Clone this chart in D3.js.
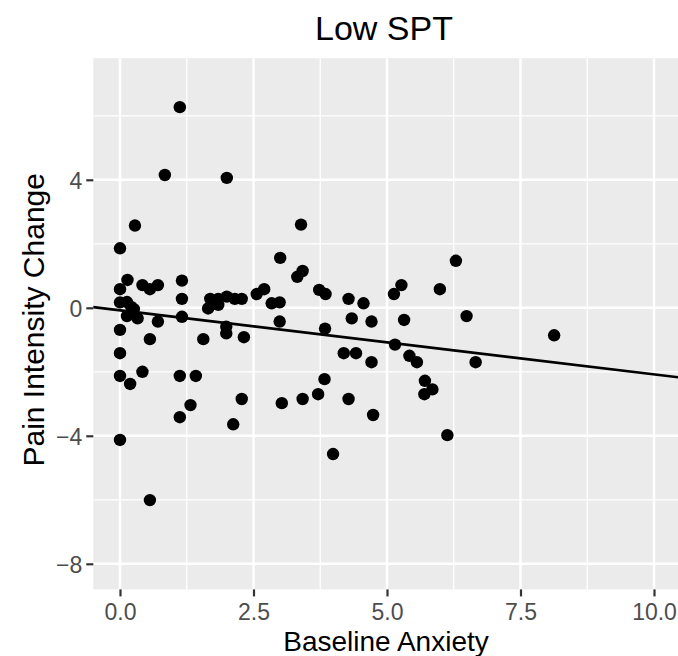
<!DOCTYPE html>
<html>
<head>
<meta charset="utf-8">
<script src="https://cdn.jsdelivr.net/npm/d3@7"></script>
<style>
  body { margin: 0; background: #fff; }
  text { font-family: "Liberation Sans", Arial, Helvetica, sans-serif; }
</style>
</head>
<body>
<script>
// baseline anxiety (x) and pain intensity change (y)
const anxiety = [
  1.12, 0.84, 2.00, 0.28, 3.39, 0.00, 3.00, 6.29, 3.32, 3.42,
  0.14, 0.00, 0.42, 0.56, 0.71, 1.16, 1.16, 0.00, 0.13, 0.21,
  0.26, 0.13, 0.33, 0.71, 1.16, 0.00, 0.56, 0.00, 1.56, 1.99,
  1.99, 2.32, 1.65, 1.69, 1.84, 2.00, 2.15, 2.28, 1.84, 2.56,
  2.70, 2.84, 2.99, 2.99, 3.73, 3.85, 4.28, 4.56, 4.34, 4.71,
  3.84, 5.13, 5.27, 5.32, 5.99, 6.49, 8.13, 5.15, 5.42, 5.56,
  6.66, 4.19, 4.42, 4.71, 3.83, 5.71, 5.85, 5.70, 3.03, 3.42,
  3.71, 4.28, 4.74, 6.13, 3.99, 0.00, 0.19, 0.42, 1.12, 1.42,
  1.32, 1.12, 2.28, 2.12, 0.00, 0.56
];
const painChange = [
  6.27, 4.15, 4.06, 2.57, 2.60, 1.86, 1.56, 1.47, 0.97, 1.15,
  0.87, 0.58, 0.71, 0.58, 0.71, 0.85, 0.28, 0.17, 0.18, 0.03,
  -0.04, -0.26, -0.33, -0.43, -0.28, -0.69, -0.98, -1.42, -0.98, -0.59,
  -0.80, -0.92, -0.02, 0.28, 0.28, 0.35, 0.28, 0.28, 0.09, 0.43,
  0.58, 0.14, 0.17, -0.43, 0.56, 0.43, 0.28, 0.14, -0.33, -0.43,
  -0.65, 0.43, 0.71, -0.38, 0.58, -0.26, -0.86, -1.15, -1.50, -1.70,
  -1.70, -1.42, -1.42, -1.70, -2.23, -2.28, -2.55, -2.70, -2.98, -2.85,
  -2.70, -2.85, -3.35, -3.98, -4.57, -2.13, -2.38, -2.00, -2.13, -2.13,
  -3.04, -3.42, -2.85, -3.64, -4.13, -6.01
];

// fitted line
const fitIntercept = -0.08, fitSlope = -0.2;

const xTicks = [0, 2.5, 5, 7.5, 10];
const xMinor = [1.25, 3.75, 6.25, 8.75];
const yTicks = [-8, -4, 0, 4];
const yMinor = [-6, -2, 2, 6];

const width = 678, height = 656;
const x = d3.scaleLinear().domain([-0.5, 10.5]).range([93.3, 680.7]);
const y = d3.scaleLinear().domain([-8.8, 7.8]).range([589.4, 58.2]);

const svg = d3.select("body").append("svg")
  .attr("width", width).attr("height", height);

svg.append("rect")
  .attr("x", x.range()[0]).attr("y", y.range()[1])
  .attr("width", x.range()[1] - x.range()[0])
  .attr("height", y.range()[0] - y.range()[1])
  .attr("fill", "#EBEBEB");

const grid = svg.append("g");
grid.selectAll(".xminor").data(xMinor).join("line")
  .attr("x1", d => x(d)).attr("x2", d => x(d))
  .attr("y1", y.range()[0]).attr("y2", y.range()[1])
  .attr("stroke", "#fff").attr("stroke-width", 1.3);
grid.selectAll(".yminor").data(yMinor).join("line")
  .attr("y1", d => y(d)).attr("y2", d => y(d))
  .attr("x1", x.range()[0]).attr("x2", x.range()[1])
  .attr("stroke", "#fff").attr("stroke-width", 1.3);
grid.selectAll(".xmajor").data(xTicks).join("line")
  .attr("x1", d => x(d)).attr("x2", d => x(d))
  .attr("y1", y.range()[0]).attr("y2", y.range()[1])
  .attr("stroke", "#fff").attr("stroke-width", 2.5);
grid.selectAll(".ymajor").data(yTicks).join("line")
  .attr("y1", d => y(d)).attr("y2", d => y(d))
  .attr("x1", x.range()[0]).attr("x2", x.range()[1])
  .attr("stroke", "#fff").attr("stroke-width", 2.5);

// points
const pts = anxiety.map((a, i) => ({ a: a, p: painChange[i] }));
svg.append("g").selectAll("circle").data(pts).join("circle")
  .attr("cx", d => x(d.a)).attr("cy", d => y(d.p))
  .attr("r", 6.2).attr("fill", "#000");

// regression line
const xd = x.domain();
svg.append("line")
  .attr("x1", x(xd[0])).attr("y1", y(fitIntercept + fitSlope * xd[0]))
  .attr("x2", x(xd[1])).attr("y2", y(fitIntercept + fitSlope * xd[1]))
  .attr("stroke", "#000").attr("stroke-width", 2.6);

// axes
const fmtX = d3.format(".1f");
const fmtY = d => d3.format("d")(d).replace("-", "\u2212");

const xAxis = svg.append("g")
  .attr("transform", `translate(0,${y.range()[0]})`)
  .call(d3.axisBottom(x).tickValues(xTicks).tickFormat(fmtX).tickSize(7).tickPadding(3));
const yAxis = svg.append("g")
  .attr("transform", `translate(${x.range()[0]},0)`)
  .call(d3.axisLeft(y).tickValues(yTicks).tickFormat(fmtY).tickSize(7).tickPadding(4));

[xAxis, yAxis].forEach(g => {
  g.select(".domain").remove();
  g.selectAll(".tick line").attr("stroke", "#333").attr("stroke-width", 2.2);
  g.selectAll(".tick text").attr("fill", "#4D4D4D")
    .style("font-size", "23px")
    .style("font-family", '"Liberation Sans", Arial, sans-serif');
});
xAxis.selectAll(".tick text").attr("dy", "0.88em");
yAxis.selectAll(".tick text").attr("dy", "0.36em");

// titles
svg.append("text")
  .attr("x", (x.range()[0] + x.range()[1]) / 2 - 3).attr("y", 40)
  .attr("text-anchor", "middle").style("font-size", "34px")
  .text("Low SPT");

svg.append("text")
  .attr("x", (x.range()[0] + x.range()[1]) / 2 - 1).attr("y", 651)
  .attr("text-anchor", "middle").style("font-size", "28px")
  .text("Baseline Anxiety");

svg.append("text")
  .attr("transform", `translate(44,${(y.range()[0] + y.range()[1]) / 2 - 4}) rotate(-90)`)
  .attr("text-anchor", "middle").style("font-size", "30px")
  .text("Pain Intensity Change");
</script>
</body>
</html>
